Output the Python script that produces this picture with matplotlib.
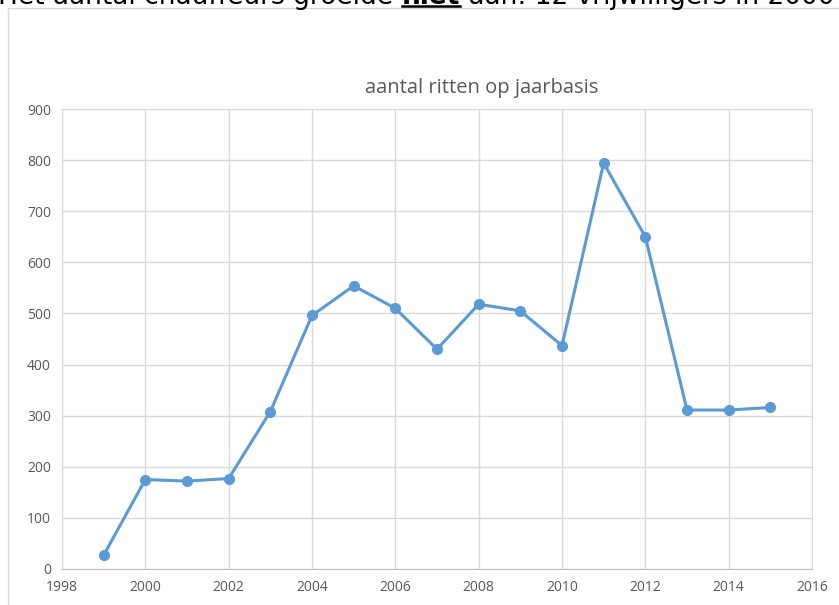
import matplotlib.pyplot as plt
from matplotlib.patches import Rectangle

years = [1999, 2000, 2001, 2002, 2003, 2004, 2005, 2006, 2007,
         2008, 2009, 2010, 2011, 2012, 2013, 2014, 2015]
ritten = [27, 175, 172, 177, 308, 496, 554, 510, 430,
          518, 505, 437, 794, 650, 311, 311, 316]

x_ticks = list(range(1998, 2017, 2))
y_ticks = list(range(0, 1000, 100))

W, H = 839, 605
fig = plt.figure(figsize=(W / 100, H / 100), dpi=100)
fig.patch.set_facecolor('white')

# outer chart frame (top/left visible)
fig.add_artist(Rectangle((8 / W, -0.05), 1.2, (H - 8) / H + 0.05,
                         transform=fig.transFigure, fill=False,
                         edgecolor='#d9d9d9', lw=1))

ax = fig.add_axes([62 / W, (H - 569) / H, 750 / W, 460 / H])
ax.plot(years, ritten, color='#5b9bd5', lw=2.2, marker='o', markersize=7)
ax.set_xlim(1998, 2016)
ax.set_ylim(0, 900)
ax.set_xticks(x_ticks)
ax.set_yticks(y_ticks)
ax.grid(True, color='#d9d9d9', lw=1)
ax.set_axisbelow(True)
for s in ax.spines.values():
    s.set_color('#d9d9d9')
ax.spines['bottom'].set_color('#bfbfbf')
ax.tick_params(length=0, labelsize=10, colors='#595959', pad=8)
for lab in ax.get_xticklabels() + ax.get_yticklabels():
    lab.set_family('Open Sans')

fig.text(482 / W, (H - 88) / H, 'aantal ritten op jaarbasis', ha='center',
         va='center', fontsize=14.5, color='#595959', family='Open Sans')

# sentence above the chart, mostly cut off by the top edge
parts = [('Het aantal chauffeurs groeide ', 'normal'),
         ('niet', 'bold'),
         (' aan: 12 vrijwilligers in 2000', 'normal')]
renderer = fig.canvas.get_renderer()
probe = fig.text(0, 0, 'Het ', fontsize=19, family='DejaVu Sans')
xpos = 53 - probe.get_window_extent(renderer).width
probe.remove()
yb = (H - 4) / H
for txt, wt in parts:
    t = fig.text(xpos / W, yb, txt, fontsize=19, weight=wt, va='baseline',
                 color='black', family='DejaVu Sans')
    bb = t.get_window_extent(renderer)
    if wt == 'bold':
        fig.add_artist(plt.Line2D([bb.x0 / W, bb.x1 / W], [(H - 6) / H] * 2,
                                  transform=fig.transFigure, color='black', lw=1.8))
    xpos += bb.width

fig.savefig('out.png', dpi=100)
